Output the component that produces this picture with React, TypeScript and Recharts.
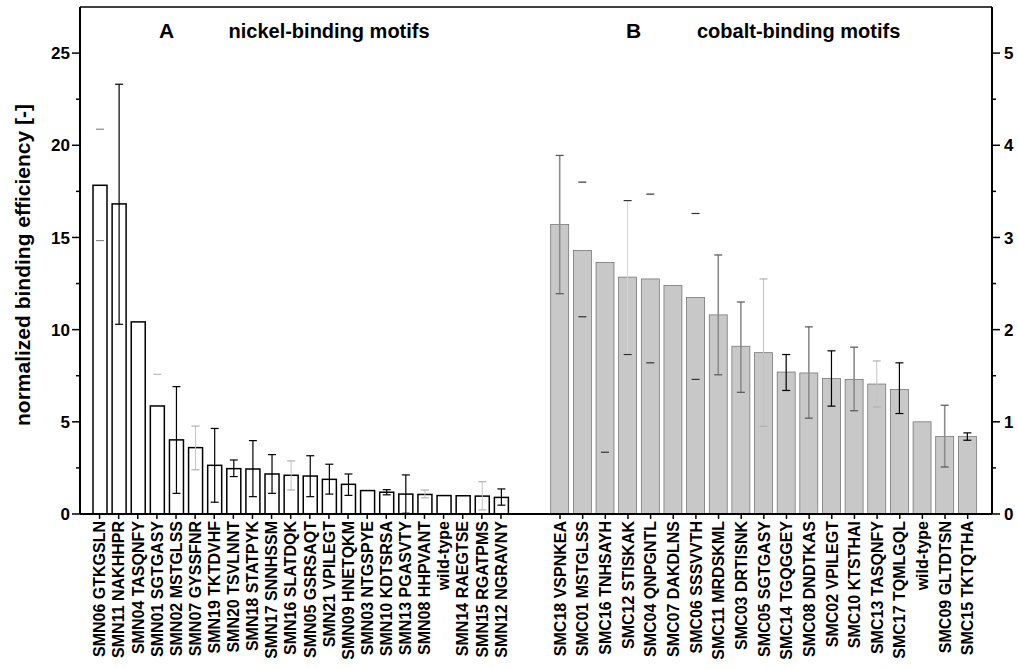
import { Bar, BarChart, ReferenceLine, XAxis, YAxis } from "recharts";

const FONT = '"Liberation Sans", Arial, Helvetica, sans-serif';

// panel A: nickel-binding motifs (left axis)
const NICKEL_MOTIFS = [
  "SMN06 GTKGSLN", "SMN11 NAKHHPR", "SMN04 TASQNFY", "SMN01 SGTGASY",
  "SMN02 MSTGLSS", "SMN07 GYSSFNR", "SMN19 TKTDVHF", "SMN20 TSVLNNT",
  "SMN18 STATPYK", "SMN17 SNNHSSM", "SMN16 SLATDQK", "SMN05 GSRSAQT",
  "SMN21 VPILEGT", "SMN09 HNETQKM", "SMN03 NTGSPYE", "SMN10 KDTSRSA",
  "SMN13 PGASVTY", "SMN08 HHPVANT", "wild-type", "SMN14 RAEGTSE",
  "SMN15 RGATPMS", "SMN12 NGRAVNY",
];
const NICKEL_VALUES = [
  17.83, 16.82, 10.42, 5.86, 4.02, 3.6, 2.64, 2.46, 2.44, 2.17, 2.1,
  2.06, 1.88, 1.61, 1.27, 1.18, 1.08, 1.06, 1.0, 0.99, 0.97, 0.9,
];
const NICKEL_ERR_LOW = [
  3.0, 6.53, 0, 0, 2.9, 1.2, 2.0, 0.43, 1.5, 1.05, 0.8,
  1.12, 0.8, 0.6, 0, 0.14, 1.04, 0.18, 0, 0, 0.75, 0.42,
];
const NICKEL_ERR_HIGH = [
  3.04, 6.49, 0, 1.72, 2.89, 1.17, 2.0, 0.47, 1.54, 1.05, 0.78,
  1.1, 0.82, 0.56, 0, 0.14, 1.04, 0.24, 0, 0, 0.78, 0.46,
];

// panel B: cobalt-binding motifs (right axis)
const COBALT_MOTIFS = [
  "SMC18 VSPNKEA", "SMC01 MSTGLSS", "SMC16 TNHSAYH", "SMC12 STISKAK",
  "SMC04 QNPGNTL", "SMC07 DAKDLNS", "SMC06 SSSVVTH", "SMC11 MRDSKML",
  "SMC03 DRTISNK", "SMC05 SGTGASY", "SMC14 TGQGGEY", "SMC08 DNDTKAS",
  "SMC02 VPILEGT", "SMC10 KTSTHAI", "SMC13 TASQNFY", "SMC17 TQMLGQL",
  "wild-type", "SMC09 GLTDTSN", "SMC15 TKTQTHA",
];
const COBALT_VALUES = [
  3.14, 2.86, 2.73, 2.57, 2.55, 2.48, 2.35, 2.16, 1.82, 1.75,
  1.54, 1.53, 1.47, 1.46, 1.41, 1.35, 1.0, 0.84, 0.84,
];
const COBALT_ERR_LOW = [
  0.75, 0.72, 2.06, 0.84, 0.91, 0, 0.89, 0.65, 0.5, 0.8,
  0.2, 0.49, 0.3, 0.34, 0.25, 0.26, 0, 0.33, 0.04,
];
const COBALT_ERR_HIGH = [
  0.75, 0.74, 0, 0.83, 0.92, 0, 0.91, 0.65, 0.48, 0.8,
  0.19, 0.5, 0.3, 0.35, 0.25, 0.29, 0, 0.34, 0.04,
];

const LEFT_TICKS = [0, 2.5, 5, 7.5, 10, 12.5, 15, 17.5, 20, 22.5, 25];
const RIGHT_TICKS = [0, 0.5, 1, 1.5, 2, 2.5, 3, 3.5, 4, 4.5, 5];

// how each error bar is drawn (line colour / cap colour)
const ERR_STYLES: Record<string, { line: string | null; cap: string; w: number }> = {
  k: { line: "#000", cap: "#000", w: 1.2 },
  g: { line: "#8c8c8c", cap: "#555", w: 1.6 },
  l: { line: "#c4c4c4", cap: "#b0b0b0", w: 1 },
  lc: { line: "#d6d6d6", cap: "#333", w: 1 },
  c: { line: null, cap: "#333", w: 1.2 },
  cg: { line: null, cap: "#888", w: 1.2 },
  cl: { line: null, cap: "#bbb", w: 1.2 },
};
const NICKEL_ERR_LOOK = [
  "cg", "k", "k", "cl", "k", "l", "k", "k", "k", "k", "l",
  "k", "k", "k", "k", "k", "k", "l", "k", "k", "l", "k",
];
const COBALT_ERR_LOOK = [
  "g", "c", "c", "lc", "c", "k", "c", "g", "g", "l",
  "k", "g", "k", "g", "l", "k", "k", "g", "k",
];

const nickelData = NICKEL_MOTIFS.map((name, i) => ({
  name,
  value: NICKEL_VALUES[i],
  lo: NICKEL_ERR_LOW[i],
  hi: NICKEL_ERR_HIGH[i],
  look: NICKEL_ERR_LOOK[i],
}));
const cobaltData = COBALT_MOTIFS.map((name, i) => ({
  name,
  value: COBALT_VALUES[i],
  lo: COBALT_ERR_LOW[i],
  hi: COBALT_ERR_HIGH[i],
  look: COBALT_ERR_LOOK[i],
}));

function barShape(fill: string, stroke: string, strokeWidth: number) {
  return (props: any) => {
    const { x, y, width, height, payload } = props;
    const perUnit = payload.value ? height / payload.value : 0;
    const cx = x + width / 2;
    const st = ERR_STYLES[payload.look];
    const top = y - payload.hi * perUnit;
    const bot = y + payload.lo * perUnit;
    return (
      <g>
        <rect x={x} y={y} width={width} height={height} fill={fill} stroke={stroke} strokeWidth={strokeWidth} />
        {st.line && (payload.hi > 0 || payload.lo > 0) && (
          <line x1={cx} x2={cx} y1={top} y2={bot} stroke={st.line} strokeWidth={st.w} />
        )}
        {payload.hi > 0 && (
          <line x1={cx - 4} x2={cx + 4} y1={top} y2={top} stroke={st.cap} strokeWidth={1.2} />
        )}
        {payload.lo > 0 && (
          <line x1={cx - 4} x2={cx + 4} y1={bot} y2={bot} stroke={st.cap} strokeWidth={1.2} />
        )}
      </g>
    );
  };
}

function XLabel(props: any) {
  const { x, y, payload } = props;
  return (
    <text
      x={x}
      y={y}
      transform={`rotate(-90 ${x} ${y})`}
      textAnchor="end"
      dy="0.36em"
      fontFamily={FONT}
      fontWeight="bold"
      fontSize={16}
      fill="#000"
    >
      {payload.value}
    </text>
  );
}

function LeftTick(props: any) {
  const { x, y, payload } = props;
  const major = payload.value % 5 === 0;
  return (
    <g>
      <line x1={x - (major ? 8 : 4)} x2={x} y1={y} y2={y} stroke="#000" strokeWidth={1.5} />
      {major && (
        <text x={x - 10} y={y} dy="0.36em" textAnchor="end" fontFamily={FONT} fontWeight="bold" fontSize={17} fill="#000">
          {payload.value}
        </text>
      )}
    </g>
  );
}

function RightTick(props: any) {
  const { x, y, payload } = props;
  const major = Number.isInteger(payload.value);
  return (
    <g>
      <line x1={x} x2={x + (major ? 8 : 4)} y1={y} y2={y} stroke="#000" strokeWidth={1.5} />
      {major && (
        <text x={x + 12} y={y} dy="0.36em" textAnchor="start" fontFamily={FONT} fontWeight="bold" fontSize={17} fill="#000">
          {payload.value}
        </text>
      )}
    </g>
  );
}

const axisLine = { stroke: "#000", strokeWidth: 2 };
const tickLine = { stroke: "#000", strokeWidth: 1.5 };

export default function App() {
  return (
    <div style={{ position: "absolute", left: 0, top: 0, width: 1018, height: 669, background: "#fff" }}>
      <div style={{ position: "absolute", left: 0, top: 0 }}>
        <BarChart width={541} height={669} data={nickelData} margin={{ top: 7, right: 1, bottom: 0, left: 0 }}>
          <XAxis
            dataKey="name"
            interval={0}
            height={155}
            padding={{ left: 10, right: 29.5 }}
            axisLine={axisLine}
            tickLine={tickLine}
            tickSize={5}
            tickMargin={2}
            tick={(p: any) => <XLabel {...p} />}
          />
          <YAxis
            width={80}
            domain={[0, 27.5]}
            allowDataOverflow
            ticks={LEFT_TICKS}
            interval={0}
            tickSize={0}
            tickMargin={0}
            tickLine={false}
            axisLine={axisLine}
            tick={(p: any) => <LeftTick {...p} />}
          />
          <YAxis
            yAxisId="edge"
            orientation="right"
            width={0}
            domain={[0, 27.5]}
            tick={false}
            tickLine={false}
            axisLine={{ stroke: "#000", strokeWidth: 1.5 }}
          />
          <ReferenceLine y={27.5} stroke="#000" strokeWidth={1.5} />
          <Bar
            dataKey="value"
            barSize={14}
            isAnimationActive={false}
            shape={barShape("#fff", "#000", 1.5)}
          />
        </BarChart>
      </div>
      <div style={{ position: "absolute", left: 540, top: 0 }}>
        <BarChart width={478} height={669} data={cobaltData} margin={{ top: 7, right: 0, bottom: 0, left: 0 }}>
          <XAxis
            dataKey="name"
            interval={0}
            height={155}
            padding={{ left: 8.7, right: 13 }}
            axisLine={axisLine}
            tickLine={tickLine}
            tickSize={5}
            tickMargin={2}
            tick={(p: any) => <XLabel {...p} />}
          />
          <YAxis
            orientation="right"
            width={26}
            domain={[0, 5.5]}
            allowDataOverflow
            ticks={RIGHT_TICKS}
            interval={0}
            tickSize={0}
            tickMargin={0}
            tickLine={false}
            axisLine={axisLine}
            tick={(p: any) => <RightTick {...p} />}
          />
          <ReferenceLine y={5.5} stroke="#000" strokeWidth={1.5} />
          <Bar
            dataKey="value"
            barSize={18}
            isAnimationActive={false}
            shape={barShape("#c8c8c8", "#6a6a6a", 0.7)}
          />
        </BarChart>
      </div>
      <svg
        width={1018}
        height={669}
        style={{ position: "absolute", left: 0, top: 0, pointerEvents: "none" }}
        fontFamily={FONT}
        fontWeight="bold"
      >
        <text x={159} y={38} fontSize={21}>A</text>
        <text x={228.5} y={38} fontSize={20}>nickel-binding motifs</text>
        <text x={626} y={38} fontSize={21}>B</text>
        <text x={697} y={38} fontSize={20}>cobalt-binding motifs</text>
        <text transform="translate(30 265) rotate(-90)" textAnchor="middle" fontSize={21}>
          normalized binding efficiency [-]
        </text>
      </svg>
    </div>
  );
}
